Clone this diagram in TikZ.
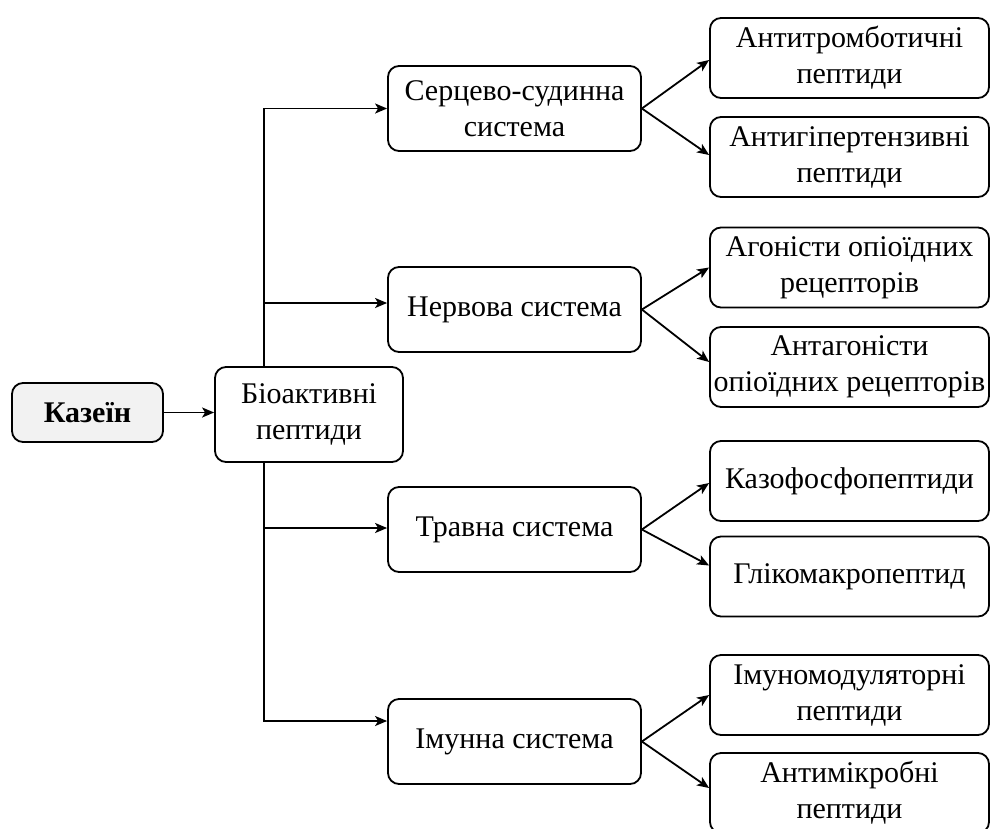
\documentclass[tikz,border=0pt]{standalone}
\usepackage{fontspec}
\setmainfont{Liberation Serif}
\usetikzlibrary{arrows.meta}
\begin{document}
\begin{tikzpicture}[x=1pt,y=-1pt,
  box/.style={draw, line width=1.8pt, rounded corners=11pt, align=center,
    inner sep=0pt, font=\fontsize{30}{36}\selectfont},
  midbox/.style={box, minimum width=253pt, minimum height=85pt},
  leafbox/.style={box, minimum width=279pt, minimum height=80pt},
  arr/.style={line width=1.8pt, -{Stealth[length=12pt,width=10pt,inset=3pt]}}]
\useasboundingbox (0,0) rectangle (990,828);
\clip (0,0) rectangle (990,828);

% source and first level
\node[box, fill=gray!10, minimum width=151pt, minimum height=59pt,
  font=\fontsize{30}{36}\selectfont\bfseries] (kaz) at (87.5,412.5) {Казеїн};
\node[box, minimum width=188pt, minimum height=95pt] (bio) at (309,414.5)
  {Біоактивні\\пептиди};

% body systems
\node[midbox] (cvs)  at (514.5,108.5) {Серцево-судинна\\система};
\node[midbox] (ner)  at (514.5,309.5) {Нервова система};
\node[midbox] (trav) at (514.5,529.5) {Травна система};
\node[midbox] (imun) at (514.5,741.5) {Імунна система};

% peptide groups
\node[leafbox] (r1) at (849.5,58)    {Антитромботичні\\пептиди};
\node[leafbox] (r2) at (849.5,157)   {Антигіпертензивні\\пептиди};
\node[leafbox] (r3) at (849.5,267.5) {Агоністи опіоїдних\\рецепторів};
\node[leafbox] (r4) at (849.5,367)   {Антагоністи\\опіоїдних рецепторів};
\node[leafbox] (r5) at (849.5,481)   {Казофосфопептиди};
\node[leafbox] (r6) at (849.5,576.5) {Глікомакропептид};
\node[leafbox] (r7) at (849.5,695)   {Імуномодуляторні\\пептиди};
\node[leafbox] (r8) at (849.5,793)   {Антимікробні\\пептиди};

% connectors
\draw[arr] (kaz.east) -- (kaz.east -| bio.west);
\coordinate (bt) at ([xshift=-45pt]bio.north);
\coordinate (bb) at ([xshift=-45pt]bio.south);
\draw[arr] (bt) |- (cvs.west);
\draw[arr] (bt) |- ([yshift=6.5pt]ner.west);
\draw[arr] (bb) |- ([yshift=1.5pt]trav.west);
\draw[arr] (bb) |- ([yshift=20.5pt]imun.west);

\draw[arr] (cvs.east) -- ([yshift=-2pt]r1.west);
\draw[arr] (cvs.east) -- ([yshift=2pt]r2.west);
\draw[arr] (ner.east) -- (r3.west);
\draw[arr] (ner.east) -- ([yshift=5pt]r4.west);
\draw[arr] (trav.east) -- ([yshift=-2pt]r5.west);
\draw[arr] (trav.east) -- ([yshift=11pt]r6.west);
\draw[arr] (imun.east) -- (r7.west);
\draw[arr] (imun.east) -- ([yshift=5pt]r8.west);
\end{tikzpicture}
\end{document}
